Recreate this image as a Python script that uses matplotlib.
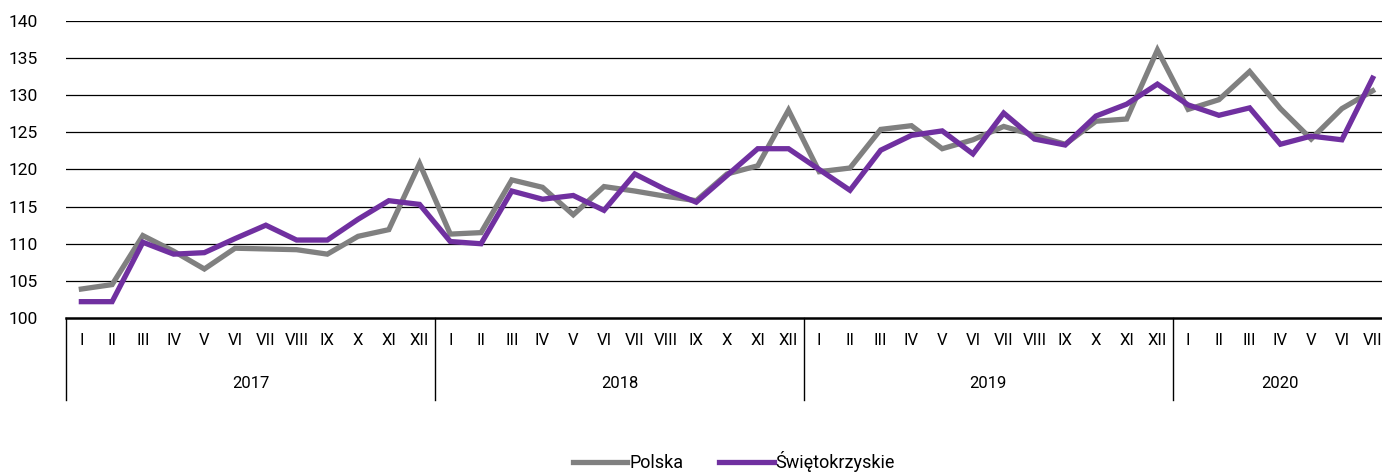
import matplotlib.pyplot as plt
import matplotlib.transforms as mtransforms

plt.rcParams['font.family'] = ['Roboto', 'DejaVu Sans']

months = ['I', 'II', 'III', 'IV', 'V', 'VI', 'VII', 'VIII', 'IX', 'X', 'XI', 'XII']
years = ['2017', '2018', '2019', '2020']
year_len = [12, 12, 12, 7]

polska = [103.9, 104.5, 111.1, 109.0, 106.6, 109.4, 109.3, 109.2, 108.6, 111.0, 111.9, 120.8,
          111.3, 111.5, 118.6, 117.6, 113.9, 117.7, 117.1, 116.4, 115.8, 119.4, 120.5, 128.0,
          119.7, 120.2, 125.4, 125.9, 122.8, 124.0, 125.8, 124.6, 123.4, 126.5, 126.8, 136.1,
          128.1, 129.4, 133.2, 128.2, 124.1, 128.2, 130.6]
swietokrzyskie = [102.2, 102.2, 110.2, 108.6, 108.8, 110.7, 112.5, 110.5, 110.5, 113.3, 115.8, 115.3,
                  110.3, 110.0, 117.1, 116.0, 116.5, 114.5, 119.4, 117.3, 115.6, 119.2, 122.8, 122.8,
                  120.0, 117.2, 122.6, 124.6, 125.2, 122.1, 127.6, 124.1, 123.3, 127.2, 128.8, 131.5,
                  128.7, 127.3, 128.3, 123.4, 124.5, 124.0, 132.3]

labels = []
for n in year_len:
    labels += months[:n]
x = list(range(len(labels)))

fig = plt.figure(figsize=(13.82, 4.72), dpi=100)
ax = fig.add_axes([66 / 1382, 1 - 318 / 472, 1322 / 1382, 297 / 472])

for v in range(105, 141, 5):
    ax.axhline(v, color='black', lw=0.9, zorder=1)

ax.plot(x, polska, color='#808080', lw=3.8, solid_joinstyle='miter', label='Polska', zorder=3)
ax.plot(x, swietokrzyskie, color='#7030A0', lw=3.8, solid_joinstyle='miter', label='Świętokrzyskie', zorder=4)

ax.set_xlim(-0.5, len(labels) - 0.5)
ax.set_ylim(100, 140)
ax.set_yticks(range(100, 141, 5))
ax.tick_params(axis='y', length=0, labelsize=12.5, pad=20)
ax.set_xticks(x)
ax.set_xticklabels(labels, fontsize=12)
ax.tick_params(axis='x', length=0, pad=11)
for s in ['left', 'right', 'top']:
    ax.spines[s].set_visible(False)
ax.spines['bottom'].set_linewidth(1.8)

# year groups below month labels
tr = mtransforms.blended_transform_factory(ax.transData, ax.transAxes)
start = 0
for yr, n in zip(years, year_len):
    ax.plot([start - 0.5, start - 0.5], [0, -0.276], color='black', lw=1.0,
            transform=tr, clip_on=False)
    ax.text(start + (n - 1) / 2, -0.219, yr, transform=tr, ha='center', va='center', fontsize=12)
    start += n

fig.legend(loc='center', bbox_to_anchor=(734 / 1382, 1 - 462 / 472), ncol=2, frameon=False,
           fontsize=13, handlelength=3.0, handletextpad=0.1, columnspacing=2.0)

fig.savefig('out.png', dpi=100)
